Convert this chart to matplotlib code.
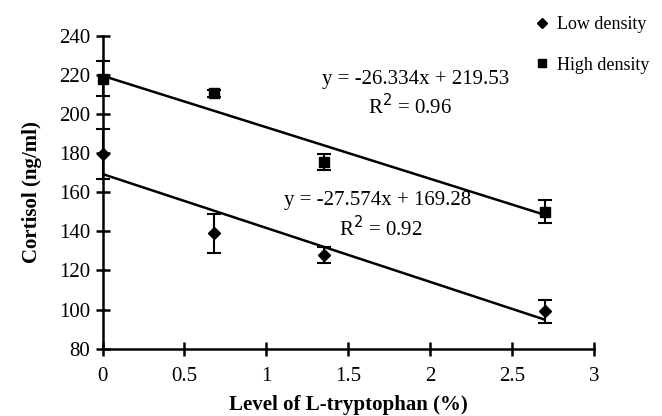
import matplotlib
matplotlib.use("Agg")
from matplotlib import pyplot as plt
from matplotlib.lines import Line2D
import numpy as np

tryptophan = [0, 0.68, 1.35, 2.7]
low_density = [179.5, 139, 128, 99]
low_err = [13, 10, 4, 6]
high_density = [218, 210.5, 175.5, 150]
high_err = [9, 2, 4, 6]
low_fit = (-27.574, 169.28)
high_fit = (-26.334, 219.53)

plt.rcParams["font.family"] = ["Liberation Serif", "DejaVu Serif"]

fig = plt.figure(figsize=(6.62, 4.16), dpi=100)
ax = fig.add_axes([0.155, 0.162, 0.742, 0.752])

xs = np.array([tryptophan[0], tryptophan[-1]])
for (m, b) in (low_fit, high_fit):
    ax.plot(xs, m * xs + b, color="black", lw=1.8, zorder=2)

ax.errorbar(tryptophan, low_density, yerr=low_err, fmt="D", color="black",
            ms=6, capsize=5, elinewidth=1.5, capthick=1.5,
            zorder=3, clip_on=False)
ax.errorbar(tryptophan, high_density, yerr=high_err, fmt="s", color="black",
            ms=6.5, capsize=5, elinewidth=1.5, capthick=1.5,
            zorder=3, clip_on=False)

ax.text(1.91, 217.5, "y = -26.334x + 219.53", ha="center", va="center", fontsize=15)
ax.text(1.88, 204, "R$^2$ = 0.96", ha="center", va="center", fontsize=15)
ax.text(1.68, 156, "y = -27.574x + 169.28", ha="center", va="center", fontsize=15)
ax.text(1.70, 141.5, "R$^2$ = 0.92", ha="center", va="center", fontsize=15)

ax.set_xlim(0, 3)
ax.set_ylim(80, 240)
ax.set_xticks([0, 0.5, 1, 1.5, 2, 2.5, 3])
ax.set_xticklabels(["0", "0.5", "1", "1.5", "2", "2.5", "3"])
ax.set_yticks(range(80, 241, 20))
ax.tick_params(direction="inout", length=10, width=1.8, labelsize=15, pad=4)
ax.tick_params(axis="x", pad=8)
for s in ("top", "right"):
    ax.spines[s].set_visible(False)
for s in ("left", "bottom"):
    ax.spines[s].set_linewidth(1.8)

ax.set_xlabel("Level of L-tryptophan (%)", fontsize=15, fontweight="bold", labelpad=7)
ax.set_ylabel("Cortisol (ng/ml)", fontsize=15, fontweight="bold", labelpad=12)

handles = [
    Line2D([], [], marker="D", color="black", ls="none", ms=5),
    Line2D([], [], marker="s", color="black", ls="none", ms=6),
]
fig.legend(handles, ["Low density", "High density"], loc="upper right",
           bbox_to_anchor=(1.005, 1.0), frameon=False, fontsize=13,
           handlelength=0.6, handletextpad=0.5, labelspacing=1.3)

fig.savefig("out.png", dpi=100)
